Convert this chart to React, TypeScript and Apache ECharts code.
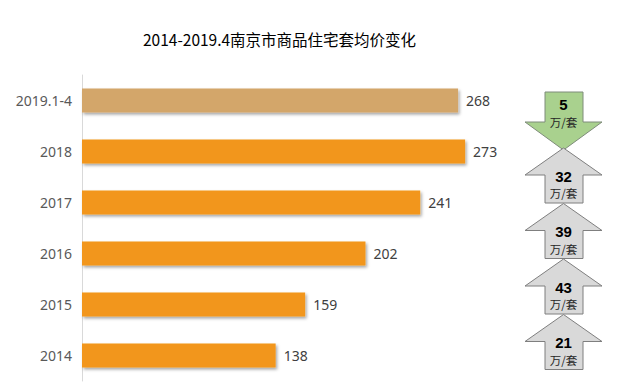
import React, { useEffect, useRef } from "react";
import * as echarts from "echarts";

const categories = ["2019.1-4", "2018", "2017", "2016", "2015", "2014"];
const prices = [268, 273, 241, 202, 159, 138];
const barColors = ["#D3A66B", "#F2961A", "#F2961A", "#F2961A", "#F2961A", "#F2961A"];
const changeValues = [5, 32, 39, 43, 21];
const changeDirections = ["down", "up", "up", "up", "up"];
const changeUnit = "万/套";
const titleText = "2014-2019.4南京市商品住宅套均价变化";

const numFont = "bold 15px 'Liberation Sans Narrow', 'Liberation Sans', sans-serif";
const unitFont = "11.5px 'Noto Sans CJK SC', sans-serif";

function arrowElements(): any[] {
  const els: any[] = [];
  const xl = 525, xr = 602, bl = 545, br = 583, xc = 563.5;
  changeValues.forEach((v, i) => {
    const dir = changeDirections[i];
    if (dir === "down") {
      const top = 92, neck = 122, tip = 150;
      els.push({
        type: "polygon",
        shape: { points: [[bl, top], [br, top], [br, neck], [xr, neck], [xc, tip], [xl, neck], [bl, neck]] },
        style: { fill: "#A9D18E", stroke: "#7F8C7A", lineWidth: 1 },
      });
      els.push({ type: "text", x: xc, y: top + 12, style: { text: String(v), fill: "#000", font: numFont, align: "center", verticalAlign: "middle" } });
      els.push({ type: "text", x: xc, y: top + 30, style: { text: changeUnit, fill: "#262626", font: unitFont, align: "center", verticalAlign: "middle" } });
    } else {
      const tip = 148 + (i - 1) * 55.5;
      const neck = tip + 27;
      const bot = tip + 55;
      els.push({
        type: "polygon",
        shape: { points: [[xc, tip], [xr, neck], [br, neck], [br, bot], [bl, bot], [bl, neck], [xl, neck]] },
        style: { fill: "#D9D9D9", stroke: "#7F7F7F", lineWidth: 1 },
      });
      els.push({ type: "text", x: xc, y: tip + 28, style: { text: String(v), fill: "#000", font: numFont, align: "center", verticalAlign: "middle" } });
      els.push({ type: "text", x: xc, y: tip + 45, style: { text: changeUnit, fill: "#262626", font: unitFont, align: "center", verticalAlign: "middle" } });
    }
  });
  return els;
}

export default function App() {
  const ref = useRef<HTMLDivElement>(null);
  useEffect(() => {
    if (!ref.current) return;
    const chart = echarts.init(ref.current, null, { renderer: "svg" });
    chart.setOption({
      animation: false,
      backgroundColor: "#ffffff",
      title: {
        text: titleText,
        left: 138,
        top: 26,
        textStyle: { fontSize: 15.5, fontWeight: "normal", color: "#000", fontFamily: "'Noto Sans CJK SC', sans-serif" },
      },
      grid: { left: 82, right: 115, top: 75, bottom: 7 },
      xAxis: { type: "value", min: 0, max: 300, show: false },
      yAxis: {
        type: "category",
        data: categories,
        inverse: true,
        axisLine: { show: true, lineStyle: { color: "#D9D9D9", width: 1 } },
        axisTick: { show: false },
        axisLabel: { color: "#595959", fontSize: 14, margin: 10, fontFamily: "'Noto Sans', sans-serif" },
      },
      series: [
        {
          type: "bar",
          data: prices.map((v, i) => ({ value: v, itemStyle: { color: barColors[i] } })),
          barWidth: 24,
          itemStyle: { shadowColor: "rgba(0,0,0,0.35)", shadowBlur: 3, shadowOffsetX: 1.5, shadowOffsetY: 2 },
          label: { show: true, position: "right", distance: 8, color: "#404040", fontSize: 14, fontFamily: "'Noto Sans', sans-serif" },
        },
      ],
      graphic: arrowElements(),
    });
    return () => chart.dispose();
  }, []);
  return <div ref={ref} style={{ width: 618, height: 388, position: "absolute", left: 0, top: 0 }} />;
}
